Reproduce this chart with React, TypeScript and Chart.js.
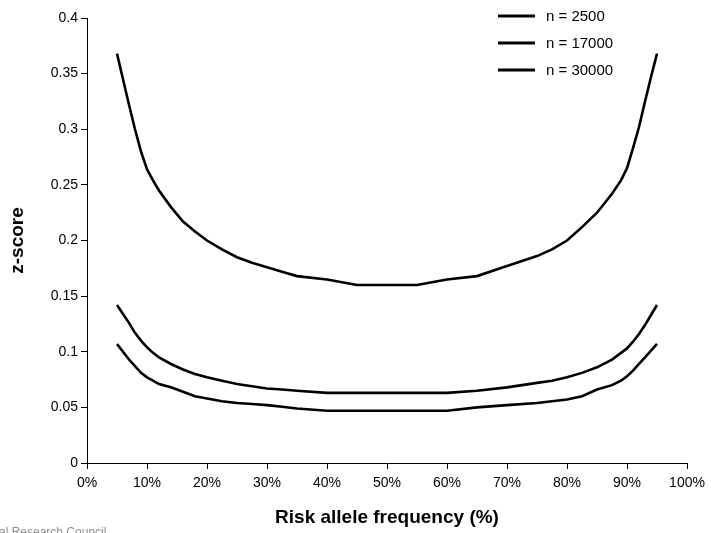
import React, { useEffect, useRef } from "react";
import { Chart, registerables } from "chart.js";

Chart.register(...registerables);

// Risk allele frequency (%) sample points
const freqPct = [5, 6, 7, 8, 9, 10, 11, 12, 14, 16, 18, 20, 22.5, 25, 27.5, 30, 32.5, 35, 40, 45, 50, 55, 60, 65, 70, 75, 77.5, 80, 82.5, 85, 87.5, 89, 90, 91, 92, 93, 94, 95];

// z-score values per sample size
const zN2500 = [0.368, 0.345, 0.322, 0.3, 0.28, 0.264, 0.254, 0.245, 0.23, 0.217, 0.208, 0.2, 0.192, 0.185, 0.18, 0.176, 0.172, 0.168, 0.165, 0.16, 0.16, 0.16, 0.165, 0.168, 0.177, 0.186, 0.192, 0.2, 0.212, 0.225, 0.242, 0.254, 0.265, 0.283, 0.302, 0.325, 0.347, 0.368];
const zN17000 = [0.142, 0.134, 0.126, 0.117, 0.11, 0.104, 0.099, 0.095, 0.089, 0.084, 0.08, 0.077, 0.074, 0.071, 0.069, 0.067, 0.066, 0.065, 0.063, 0.063, 0.063, 0.063, 0.063, 0.065, 0.068, 0.072, 0.074, 0.077, 0.081, 0.086, 0.093, 0.099, 0.103, 0.109, 0.116, 0.124, 0.133, 0.142];
const zN30000 = [0.107, 0.1, 0.093, 0.087, 0.081, 0.077, 0.074, 0.071, 0.068, 0.064, 0.06, 0.058, 0.0555, 0.054, 0.053, 0.052, 0.0505, 0.049, 0.047, 0.047, 0.047, 0.047, 0.047, 0.05, 0.052, 0.054, 0.0555, 0.057, 0.06, 0.066, 0.07, 0.074, 0.078, 0.083, 0.089, 0.095, 0.101, 0.107];

const seriesLabels = ["n = 2500", "n = 17000", "n = 30000"];
const seriesValues = [zN2500, zN17000, zN30000];

const xTitle = "Risk allele frequency (%)";
const yTitle = "z-score";
const watermark = "al Research Council";

const FONT = "'Liberation Sans', Arial, Helvetica, sans-serif";

const overlayPlugin = {
  id: "overlay",
  afterDraw(chart: any) {
    const ctx = chart.ctx as CanvasRenderingContext2D;
    const area = chart.chartArea;
    ctx.save();
    // axis titles
    ctx.fillStyle = "#000";
    ctx.font = `bold 19px ${FONT}`;
    ctx.textAlign = "center";
    ctx.textBaseline = "middle";
    ctx.fillText(xTitle, (area.left + area.right) / 2, 518);
    ctx.save();
    ctx.translate(18, (area.top + area.bottom) / 2);
    ctx.rotate(-Math.PI / 2);
    ctx.fillText(yTitle, 0, 0);
    ctx.restore();

    // legend
    ctx.font = `15px ${FONT}`;
    ctx.textAlign = "left";
    ctx.textBaseline = "middle";
    ctx.lineWidth = 3;
    ctx.strokeStyle = "#000";
    const ys = [16, 43, 70];
    chart.data.datasets.forEach((ds: any, i: number) => {
      const y = ys[i];
      ctx.beginPath();
      ctx.moveTo(498, y);
      ctx.lineTo(535, y);
      ctx.stroke();
      ctx.fillText(ds.label, 546, y + 0.5);
    });

    // watermark
    ctx.font = `12px ${FONT}`;
    ctx.fillStyle = "#8c8c8c";
    ctx.textBaseline = "alphabetic";
    ctx.fillText(watermark, -1, 536);
    ctx.restore();
  },
};

export default function App() {
  const canvasRef = useRef<HTMLCanvasElement | null>(null);

  useEffect(() => {
    if (!canvasRef.current) return;
    const datasets = seriesValues.map((vals, i) => ({
      label: seriesLabels[i],
      data: freqPct.map((x, j) => ({ x, y: vals[j] })),
      borderColor: "#000",
      backgroundColor: "#000",
      borderWidth: 2.6,
      pointRadius: 0,
      tension: 0,
      fill: false,
    }));
    const chart = new Chart(canvasRef.current, {
      type: "line",
      data: { datasets },
      options: {
        animation: false,
        responsive: false,
        devicePixelRatio: 1,
        layout: { padding: { left: 0, right: 24, top: 18, bottom: 0 } },
        plugins: {
          legend: { display: false },
          tooltip: { enabled: false },
        },
        scales: {
          x: {
            type: "linear",
            min: 0,
            max: 100,
            ticks: {
              stepSize: 10,
              color: "#000",
              font: { family: FONT, size: 14 },
              padding: 6,
              maxRotation: 0,
              callback: (v: any) => `${v}%`,
            },
            grid: {
              drawOnChartArea: false,
              drawTicks: true,
              tickLength: 6,
              color: "#000",
            },
            border: { display: true, color: "#000", width: 1 },
            afterFit: (s: any) => {
              s.height = 70;
            },
          },
          y: {
            type: "linear",
            min: 0,
            max: 0.4,
            ticks: {
              stepSize: 0.05,
              color: "#000",
              font: { family: FONT, size: 14 },
              padding: 3,
              callback: (v: any) => String(parseFloat(Number(v).toFixed(2))),
            },
            grid: {
              drawOnChartArea: false,
              drawTicks: true,
              tickLength: 6,
              color: "#000",
            },
            border: { display: true, color: "#000", width: 1 },
            afterFit: (s: any) => {
              s.width = 87;
            },
          },
        },
      },
      plugins: [overlayPlugin],
    });
    return () => chart.destroy();
  }, []);

  return (
    <div style={{ position: "absolute", left: 0, top: 0, width: 711, height: 533, background: "#fff" }}>
      <canvas ref={canvasRef} width={711} height={533} style={{ display: "block", width: 711, height: 533 }} />
    </div>
  );
}
